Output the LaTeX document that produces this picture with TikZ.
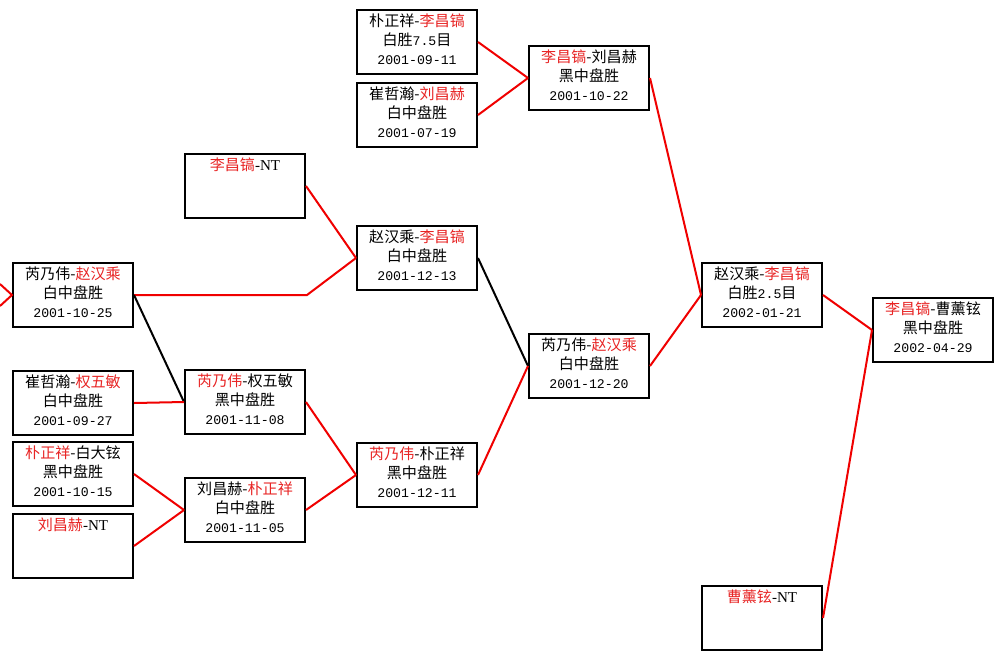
\documentclass[tikz,border=0pt]{standalone}
\usepackage{fontspec}
\setmainfont{Noto Sans CJK SC}
\newfontfamily\monofam{Liberation Mono}
\newfontfamily\serifam{Liberation Serif}
\definecolor{namered}{RGB}{232,36,36}
\definecolor{linered}{RGB}{240,0,0}
\newcommand{\rn}[1]{\textcolor{namered}{#1}}
\newcommand{\dt}[1]{{\monofam\fontsize{9.9}{14.25}\selectfont #1}}
\newcommand{\nt}{{\serifam -NT}}
\newcommand{\gl}[3]{\strut #1\\\strut #2\\\strut #3}
\begin{document}
\begin{tikzpicture}[x=0.75pt,y=-0.75pt,
  game/.style={draw=black,line width=1.5pt,fill=white,minimum width=90pt,minimum height=47.5pt,
    inner sep=0pt,align=center,font=\fontsize{11.3}{14.25}\selectfont},
  win/.style={draw=linered,line width=1.5pt},
  lose/.style={draw=black,line width=1.5pt}]
\useasboundingbox[fill=white] (0,0) rectangle (1005,661);

% first column
\node[game] (a1) at (73,295) {\gl{芮乃伟-\rn{赵汉乘}}{白中盘胜}{\dt{2001-10-25}}};
\node[game] (a2) at (73,403) {\gl{崔哲瀚-\rn{权五敏}}{白中盘胜}{\dt{2001-09-27}}};
\node[game] (a3) at (73,474) {\gl{\rn{朴正祥}-白大铉}{黑中盘胜}{\dt{2001-10-15}}};
\node[game] (a4) at (73,546) {\gl{\rn{刘昌赫}\nt}{}{}};

% second column
\node[game] (b1) at (245,186) {\gl{\rn{李昌镐}\nt}{}{}};
\node[game] (b2) at (245,402) {\gl{\rn{芮乃伟}-权五敏}{黑中盘胜}{\dt{2001-11-08}}};
\node[game] (b3) at (245,510) {\gl{刘昌赫-\rn{朴正祥}}{白中盘胜}{\dt{2001-11-05}}};

% third column
\node[game] (c0a) at (417,42) {\gl{朴正祥-\rn{李昌镐}}{白胜\dt{7.5}目}{\dt{2001-09-11}}};
\node[game] (c0b) at (417,115) {\gl{崔哲瀚-\rn{刘昌赫}}{白中盘胜}{\dt{2001-07-19}}};
\node[game] (c1) at (417,258) {\gl{赵汉乘-\rn{李昌镐}}{白中盘胜}{\dt{2001-12-13}}};
\node[game] (c2) at (417,475) {\gl{\rn{芮乃伟}-朴正祥}{黑中盘胜}{\dt{2001-12-11}}};

% fourth column
\node[game] (d0) at (589,78) {\gl{\rn{李昌镐}-刘昌赫}{黑中盘胜}{\dt{2001-10-22}}};
\node[game] (d1) at (589,366) {\gl{芮乃伟-\rn{赵汉乘}}{白中盘胜}{\dt{2001-12-20}}};

% fifth column
\node[game] (e1) at (762,295) {\gl{赵汉乘-\rn{李昌镐}}{白胜\dt{2.5}目}{\dt{2002-01-21}}};
\node[game] (e2) at (762,618) {\gl{\rn{曹薰铉}\nt}{}{}};

% final
\node[game] (f1) at (933,330) {\gl{\rn{李昌镐}-曹薰铉}{黑中盘胜}{\dt{2002-04-29}}};

% connectors
\coordinate (in1) at (0,284);
\coordinate (in2) at (0,306);
\draw[win] (in1) -- (a1.west) -- (in2);
\coordinate (bend) at (307,295);
\draw[win] (a1.east) -- (bend) -- (c1.west);
\draw[lose] (a1.east) -- (b2.west);
\draw[win] (a2.east) -- (b2.west);
\draw[win] (a3.east) -- (b3.west);
\draw[win] (a4.east) -- (b3.west);
\draw[win] (b1.east) -- (c1.west);
\draw[win] (b2.east) -- (c2.west);
\draw[win] (b3.east) -- (c2.west);
\draw[win] (c0a.east) -- (d0.west);
\draw[win] (c0b.east) -- (d0.west);
\draw[lose] (c1.east) -- (d1.west);
\draw[win] (c2.east) -- (d1.west);
\draw[win] (d0.east) -- (e1.west);
\draw[win] (d1.east) -- (e1.west);
\draw[win] (e1.east) -- (f1.west);
\draw[win] (e2.east) -- (f1.west);
\end{tikzpicture}
\end{document}
